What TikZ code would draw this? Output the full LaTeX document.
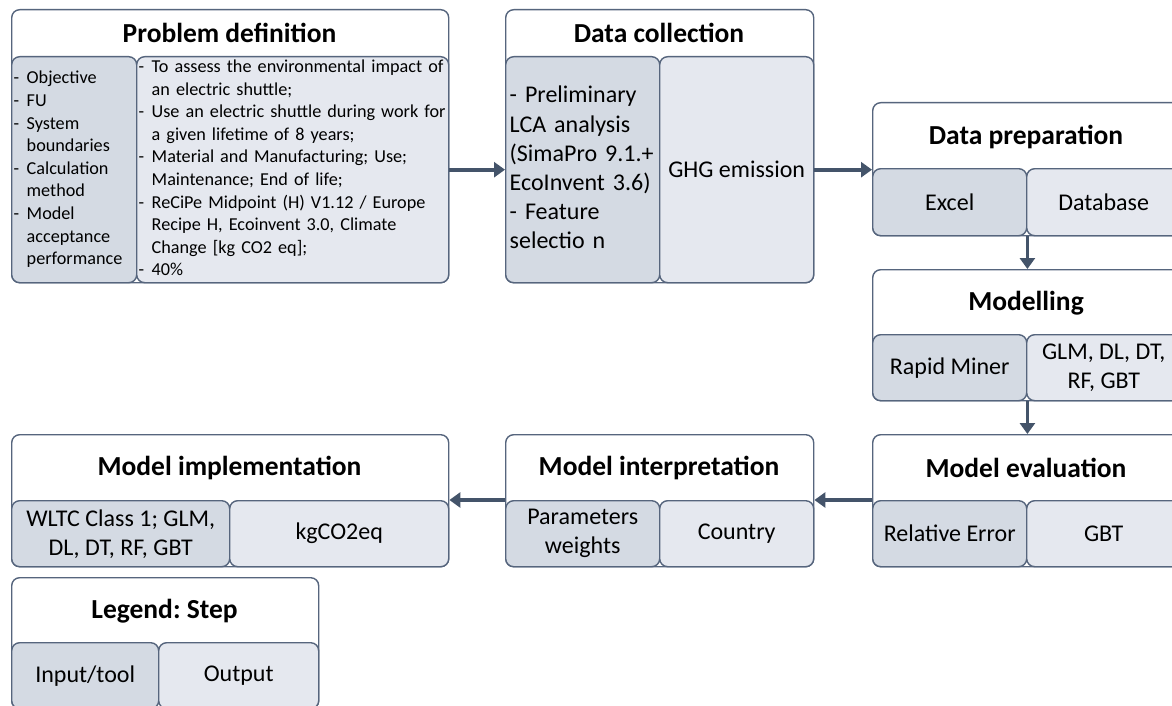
\documentclass[tikz,border=0pt]{standalone}
\usepackage{fontspec}
\setmainfont{Carlito}
\usetikzlibrary{arrows.meta}
\frenchspacing

\definecolor{edgec}{HTML}{56657D}
\definecolor{flowc}{HTML}{44546A}
\definecolor{toolfill}{HTML}{D4DAE3}
\definecolor{outfill}{HTML}{E5E8EF}

\newcommand\hy{\makebox[13pt][l]{-}}
\newcommand\hyc{\hspace*{13pt}}
\newcommand\cellfont{\fontsize{24}{29}\selectfont}
\newcommand\smallcellfont{\fontsize{18.2}{22.6}\selectfont}
\newcommand\headfont{\fontsize{27.5}{33}\selectfont\bfseries}

\tikzset{
  frame/.style={draw=edgec, line width=1.4pt, rounded corners=8pt, fill=white,
    anchor=north west, inner sep=0pt, minimum width=#1},
  toolcell/.style={draw=edgec, line width=1.4pt, rounded corners=8pt, fill=toolfill,
    anchor=north west, inner sep=0pt, font=\cellfont, align=center},
  outcell/.style={toolcell, fill=outfill},
  heading/.style={font=\headfont, inner sep=0pt},
  flow/.style={draw=flowc, line width=3.6pt, -{Triangle[length=11pt,width=15pt]}}
}

\begin{document}
\begin{tikzpicture}[x=1pt, y=-1pt]
\clip (0,0) rectangle (1172,706);
\fill[white] (0,0) rectangle (1172,706);

% ---------- Problem definition ----------
\node[frame=437pt, minimum height=273pt] (pd) at (11,9) {};
\node[heading] (pdh) at (229.5,33) {Problem definition};
\node[toolcell, minimum width=125pt, minimum height=226pt, text width=121pt,
      inner xsep=2pt, align=left, font=\smallcellfont] (pdL) at (11,56)
  {\begin{tabular}{@{}l@{}}
   \hy Objective\\
   \hy FU\\
   \hy System\\
   \hyc boundaries\\
   \hy Calculation\\
   \hyc method\\
   \hy Model\\
   \hyc acceptance\\
   \hyc performance
   \end{tabular}};
\node[outcell, minimum width=312pt, minimum height=226pt, text width=308pt,
      inner xsep=2pt, align=left, font=\smallcellfont] (pdR) at (136,56)
  {\begin{tabular}{@{}l@{}}
   \hy To assess the environmental impact of\\
   \hyc an electric shuttle;\\
   \hy Use an electric shuttle during work for\\
   \hyc a given lifetime of 8 years;\\
   \hy Material and Manufacturing; Use;\\
   \hyc Maintenance; End of life;\\
   \hy ReCiPe Midpoint (H) V1.12 / Europe\\
   \hyc Recipe H, Ecoinvent 3.0, Climate\\
   \hyc Change [kg CO2 eq];\\
   \hy 40\%
   \end{tabular}};

% ---------- Data collection ----------
\node[frame=308pt, minimum height=273pt] (dc) at (505,9) {};
\node[heading] (dch) at (659,33) {Data collection};
\node[toolcell, minimum width=154pt, minimum height=226pt, text width=146pt,
      inner xsep=4pt, align=left] (dcL) at (505,56)
  {\begin{tabular}{@{}l@{}}
   - Preliminary\\
   LCA analysis\\
   (SimaPro 9.1.+\\
   EcoInvent 3.6)\\
   - Feature\\
   selectio n
   \end{tabular}};
\node[outcell, minimum width=154pt, minimum height=226pt] (dcR) at (659,56) {GHG emission};

% ---------- Data preparation ----------
\node[frame=308pt, minimum height=133pt] (dp) at (872,102) {};
\node[heading] (dph) at (1026,137) {Data preparation};
\node[toolcell, minimum width=154pt, minimum height=67pt] (dpL) at (872,168) {Excel};
\node[outcell, minimum width=154pt, minimum height=67pt] (dpR) at (1026,168) {Database};

% ---------- Modelling ----------
\node[frame=308pt, minimum height=131pt] (mo) at (872,269) {};
\node[heading] (moh) at (1026,303) {Modelling};
\node[toolcell, minimum width=154pt, minimum height=66pt] (moL) at (872,334) {Rapid Miner};
\node[outcell, minimum width=154pt, minimum height=66pt] (moR) at (1026,334) {GLM, DL, DT,\\RF, GBT};

% ---------- Model evaluation ----------
\node[frame=308pt, minimum height=132pt] (me) at (872,434) {};
\node[heading] (meh) at (1026,468) {Model evaluation};
\node[toolcell, minimum width=154pt, minimum height=66pt] (meL) at (872,500) {Relative Error};
\node[outcell, minimum width=154pt, minimum height=66pt] (meR) at (1026,500) {GBT};

% ---------- Model interpretation ----------
\node[frame=308pt, minimum height=132pt] (mint) at (505,434) {};
\node[heading] (minth) at (659,468) {Model interpretation};
\node[toolcell, minimum width=154pt, minimum height=66pt] (mintL) at (505,500) {Parameters\\weights};
\node[outcell, minimum width=154pt, minimum height=66pt] (mintR) at (659,500) {Country};

% ---------- Model implementation ----------
\node[frame=437pt, minimum height=132pt] (mimp) at (11,434) {};
\node[heading] (mimph) at (229.5,468) {Model implementation};
\node[toolcell, minimum width=218pt, minimum height=66pt] (mimpL) at (11,500) {WLTC Class 1; GLM,\\DL, DT, RF, GBT};
\node[outcell, minimum width=219pt, minimum height=66pt] (mimpR) at (229,500) {kgCO2eq};

% ---------- Legend ----------
\node[frame=307pt, minimum height=131pt] (lg) at (11,577) {};
\node[heading] (lgh) at (164.5,611) {Legend: Step};
\node[toolcell, minimum width=147pt, minimum height=66pt] (lgL) at (11,642) {Input/tool};
\node[outcell, minimum width=160pt, minimum height=66pt] (lgR) at (158,642) {Output};

% ---------- Flow between steps ----------
\draw[flow] (pdR.east) -- (dcL.west);
\draw[flow] (dcR.east) -- (dcR.east -| dp.west);
\draw[flow] (dpL.south east) -- (dpL.south east |- mo.north);
\draw[flow] (moL.south east) -- (moL.south east |- me.north);
\draw[flow] (meL.north west) -- (meL.north west -| mint.east);
\draw[flow] (mintL.north west) -- (mintL.north west -| mimp.east);
\end{tikzpicture}
\end{document}
